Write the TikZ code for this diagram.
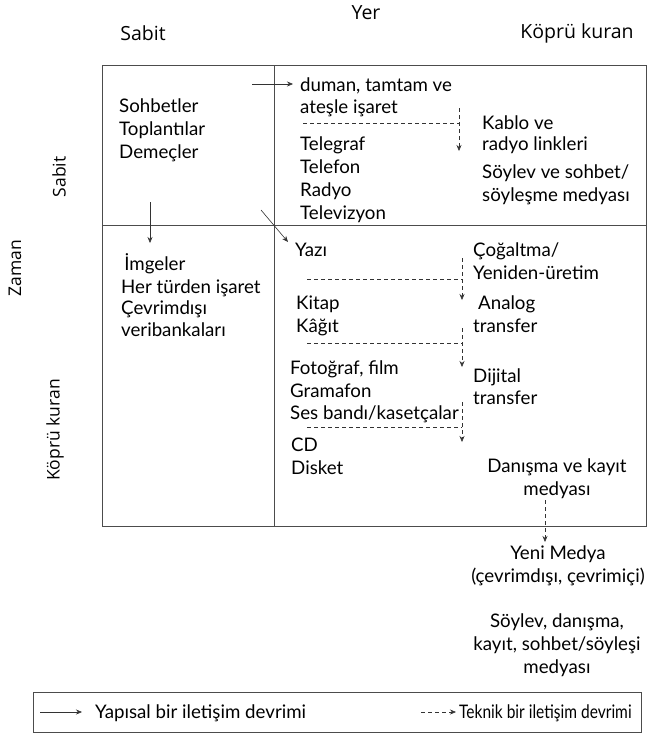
\documentclass[tikz,border=0pt]{standalone}
\usepackage{fontspec}
\usepackage{graphicx}
\setmainfont{Lato}
\newfontfamily\headfont{Open Sans}
\usetikzlibrary{arrows.meta}
\tikzset{
  frame/.style={draw=black!70, line width=0.8pt},
  txt/.style={inner sep=0pt, anchor=west, text height=13pt, text depth=0pt, font=\fontsize{18.7}{23}\selectfont},
  ctxt/.style={inner sep=0pt, align=center, font=\fontsize{18.7}{23}\selectfont},
  head/.style={inner sep=0pt, font=\headfont\fontsize{19.5}{22}\selectfont},
  vhead/.style={inner sep=0pt, rotate=90, font=\headfont\fontsize{17.5}{22}\selectfont},
  sarr/.style={draw=black!80, line width=0.6pt, -{Stealth[length=6pt,width=5pt]}},
  darr/.style={draw=black!80, line width=0.6pt, dash pattern=on 4pt off 3pt, -{Stealth[length=6pt,width=5pt]}},
  dline/.style={draw=black!80, line width=0.6pt, dash pattern=on 4pt off 3pt},
}
\begin{document}
\begin{tikzpicture}[x=1pt,y=-1pt]
\useasboundingbox (0,0) rectangle (649,737);
% frame
\draw[frame] (102,65) rectangle (646,526);
\draw[frame] (274,65) -- (274,526);
\draw[frame] (102,225) -- (646,225);
% headers
\node[head] (yer) at (366,13) {Yer};
\node[head] (hsabit) at (143,33) {Sabit};
\node[head] (hkopru) at (577,33) {Köprü kuran};
\node[vhead] (vsabit) at (59,177) {Sabit};
\node[vhead] (zaman) at (15,268) {Zaman};
\node[vhead] (vkopru) at (55,430) {Köprü kuran};
% top left
\node[txt] (tl1) at (119,106) {Sohbetler};
\node[txt] (tl2) at (119,129) {Toplantılar};
\node[txt] (tl3) at (119,152) {Demeçler};
% bottom left
\node[txt] (bl1) at (121,264) {\,İmgeler};
\node[txt] (bl2) at (121,287) {Her türden işaret};
\node[txt] (bl3) at (121,308) {Çevrimdışı};
\node[txt] (bl4) at (121,330) {veribankaları};
% top right
\node[txt] (tr1) at (300,85) {duman, tamtam ve};
\node[txt] (tr2) at (300,107) {ateşle işaret};
\node[txt] (tr3) at (300,144) {Telegraf};
\node[txt] (tr4) at (300,167) {Telefon};
\node[txt] (tr5) at (300,190) {Radyo};
\node[txt] (tr6) at (300,213) {Televizyon};
\node[txt] (tr7) at (482,123) {Kablo ve};
\node[txt] (tr8) at (482,144) {radyo linkleri};
\node[txt] (tr9) at (482,172) {Söylev ve sohbet/};
\node[txt] (tr10) at (482,195) {söyleşme medyası};
% bottom right
\node[txt] (br1) at (295,250) {Yazı};
\node[txt] (br2) at (473,250) {Çoğaltma/};
\node[txt] (br3) at (473,273) {Yeniden-üretim};
\node[txt] (br4) at (296,303) {Kitap};
\node[txt] (br5) at (296,326) {Kâğıt};
\node[txt] (br6) at (478,303) {Analog};
\node[txt] (br7) at (473,326) {transfer};
\node[txt] (br8) at (290,368) {Fotoğraf, film};
\node[txt] (br9) at (290,391) {Gramafon};
\node[txt] (br10) at (290,413) {Ses bandı/kasetçalar};
\node[txt] (br11) at (473,376) {Dijital};
\node[txt] (br12) at (473,398) {transfer};
\node[txt] (br13) at (291,445) {CD};
\node[txt] (br14) at (291,468) {Disket};
\node[ctxt] (dk) at (557,479) {Danışma ve kayıt\\medyası};
% outside
\node[ctxt] (yeni) at (558,566) {Yeni Medya\\(çevrimdışı, çevrimiçi)};
\node[ctxt] (soylev) at (557,645) {Söylev, danışma,\\kayıt, sohbet/söyleşi\\medyası};
% structural arrows
\coordinate (a1s) at (252,84); \coordinate (a1e) at (293,84);
\coordinate (a2s) at (150,202); \coordinate (a2e) at (150,243);
\coordinate (a3s) at (261,210); \coordinate (a3e) at (288,242);
\draw[sarr] (a1s) -- (a1e);
\draw[sarr] (a2s) -- (a2e);
\draw[sarr] (a3s) -- (a3e);
% technical arrows
\coordinate (h1a) at (303,123); \coordinate (h1b) at (459,123);
\coordinate (v1a) at (459,108); \coordinate (v1b) at (459,151);
\draw[dline] (h1a) -- (h1b);
\draw[darr] (v1a) -- (v1b);
\coordinate (h2a) at (307,279); \coordinate (h2b) at (462,279);
\coordinate (v2a) at (462,258); \coordinate (v2b) at (462,300);
\draw[dline] (h2a) -- (h2b);
\draw[darr] (v2a) -- (v2b);
\coordinate (h3a) at (307,343); \coordinate (h3b) at (462,343);
\coordinate (v3a) at (462,328); \coordinate (v3b) at (462,367);
\draw[dline] (h3a) -- (h3b);
\draw[darr] (v3a) -- (v3b);
\coordinate (h4a) at (307,427); \coordinate (h4b) at (462,427);
\coordinate (v4a) at (462,402); \coordinate (v4b) at (462,442);
\draw[dline] (h4a) -- (h4b);
\draw[darr] (v4a) -- (v4b);
\coordinate (v5a) at (545,500); \coordinate (v5b) at (545,542);
\draw[darr] (v5a) -- (v5b);
% legend
\draw[frame] (33,692) rectangle (641,732);
\coordinate (l1a) at (40,712); \coordinate (l1b) at (82,712);
\draw[sarr] (l1a) -- (l1b);
\node[txt] (leg1) at (95,712) {Yapısal bir iletişim devrimi};
\coordinate (l2a) at (421,712); \coordinate (l2b) at (456,712);
\draw[darr] (l2a) -- (l2b);
\node[txt] (leg2) at (459,712) {\scalebox{0.83}[1]{Teknik bir iletişim devrimi}};
\end{tikzpicture}
\end{document}
